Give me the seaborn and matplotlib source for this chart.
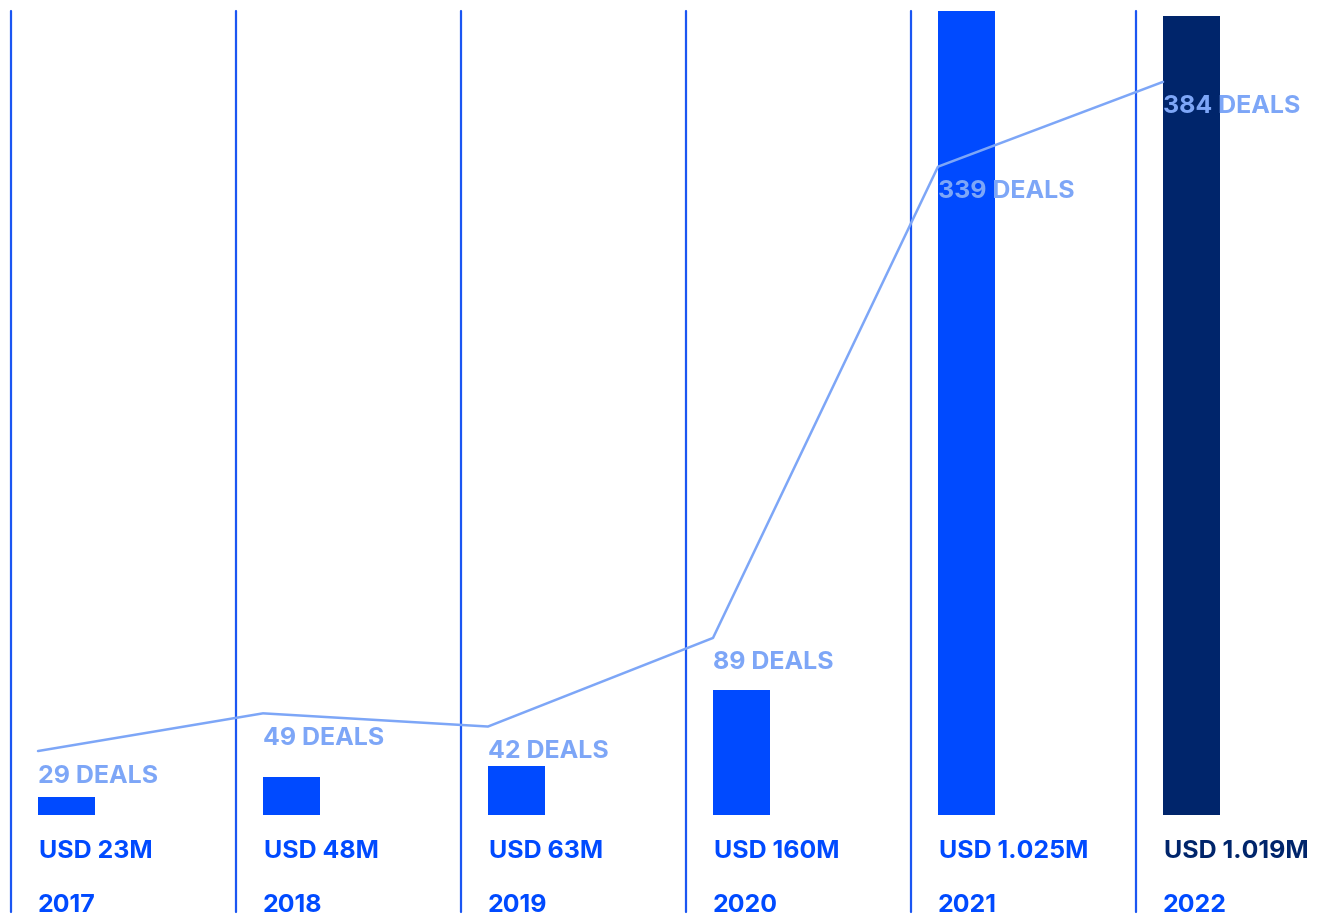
import matplotlib
matplotlib.use("Agg")
import matplotlib.pyplot as plt
import matplotlib.transforms as mtransforms
import seaborn as sns
import pandas as pd

years = ["2017", "2018", "2019", "2020", "2021", "2022"]
funding_musd = [23, 48, 63, 160, 1025, 1019]
funding_labels = ["USD 23M", "USD 48M", "USD 63M", "USD 160M", "USD 1.025M", "USD 1.019M"]
deals = [29, 49, 42, 89, 339, 384]
deal_labels = ["29 DEALS", "49 DEALS", "42 DEALS", "89 DEALS", "339 DEALS", "384 DEALS"]

BLUE = "#004AFF"
NAVY = "#00256B"
LIGHT = "#7DA6F7"
bar_colors = [BLUE, BLUE, BLUE, BLUE, BLUE, NAVY]
usd_colors = [BLUE, BLUE, BLUE, BLUE, BLUE, NAVY]

sns.set_theme(style="white")
plt.rcParams["font.family"] = ["Inter", "DejaVu Sans"]

W, H = 1333, 919
fig = plt.figure(figsize=(W / 100, H / 100), dpi=100)
ax = fig.add_axes([0, 0, 1, 1])

# x mapping: pixel = 11 + 225 * x
step = 225.0
x0 = 11.0
ax.set_xlim(-x0 / step, (W - x0) / step)

# bars: baseline at px 815 from top, 0.784 px per M
scale = 0.784
base_px = 815
ax.set_ylim(-(H - base_px) / scale, base_px / scale)

bar_off = 0.12
bar_w = 57 / step
df = pd.DataFrame({"x": [i + bar_off + bar_w / 2 for i in range(len(years))],
                   "v": funding_musd, "year": years})
for i, r in df.iterrows():
    ax.bar(r["x"], r["v"], width=bar_w, color=bar_colors[i], linewidth=0, zorder=2)

# vertical separators
for i in range(len(years)):
    ax.axvline(i, ymin=(H - 912) / H, ymax=(H - 11) / H, color="#1B56F2", lw=1.6, zorder=1)

# deals line on twin axis
ax2 = ax.twinx()
ax2.set_position([0, 0, 1, 1])
dscale = 1.885
dbase = 805.7
ax2.set_ylim(-(H - dbase) / dscale, dbase / dscale)
ax2.set_xlim(ax.get_xlim())
line_df = pd.DataFrame({"x": [i + bar_off for i in range(len(years))], "deals": deals})
sns.lineplot(data=line_df, x="x", y="deals", ax=ax2, color=LIGHT, lw=1.8, zorder=3)
for i, (xv, dv) in enumerate(zip(line_df["x"], deals)):
    ax2.annotate(deal_labels[i], (xv, dv), xytext=(0, -25), textcoords="offset pixels",
                 ha="left", va="center", color=LIGHT, fontsize=18, fontweight="bold", zorder=4)

trans = mtransforms.blended_transform_factory(ax.transData, fig.transFigure)
for i in range(len(years)):
    xl = i + bar_off
    ax.text(xl + 0.005, 1 - 851 / H, funding_labels[i], transform=trans, ha="left", va="center",
            color=usd_colors[i], fontsize=18, fontweight="bold")
    ax.text(xl, 1 - 906 / H, years[i], transform=trans, ha="left", va="center",
            color=BLUE, fontsize=18, fontweight="bold")

for a in (ax, ax2):
    a.set_axis_off()

fig.savefig("out.png", dpi=100, facecolor="white")
